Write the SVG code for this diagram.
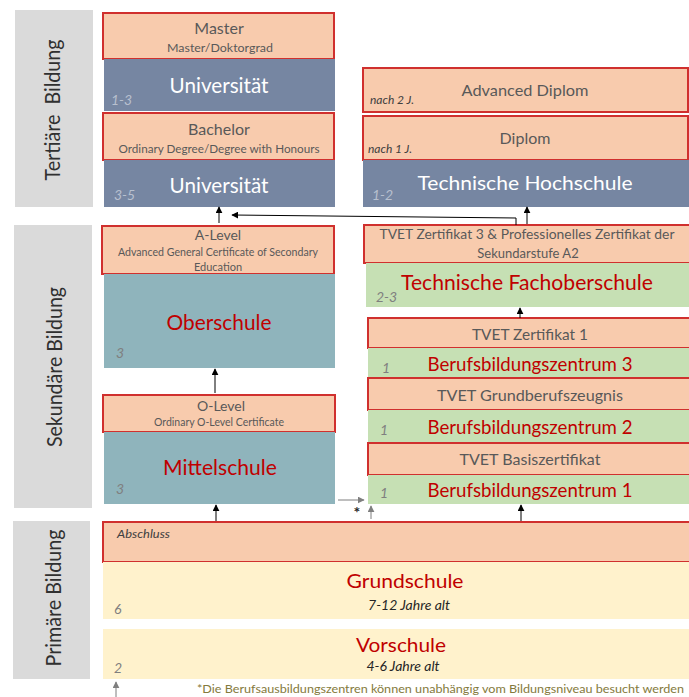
<svg xmlns="http://www.w3.org/2000/svg" width="689" height="697" viewBox="0 0 689 697">
<style>
text{font-family:Lato,"Liberation Sans",Arial,sans-serif}
.side{fill:#DADADA}
.cert{fill:#F8CBAD;stroke:#D0302E;stroke-width:2}
.uni{fill:#7686A2}
.teal{fill:#8FB4BC}
.green{fill:#C6E0B4}
.yellow{fill:#FFF2CC}
.sl{font-size:21px;fill:#303030;text-anchor:middle}
.ct{fill:#595959;text-anchor:middle}
.wt{fill:#FFFFFF;text-anchor:middle}
.rt{fill:#C00000;text-anchor:middle}
.yr{font-style:italic;font-size:14px;fill:#7F7F7F}
.yl{font-style:italic;font-size:14px;fill:#B8C0CF}
.nj{font-style:italic;font-size:12px;fill:#404040}
.age{font-style:italic;font-size:14px;fill:#262626;text-anchor:middle}
.ln{stroke:#000;stroke-width:1;fill:none;marker-end:url(#ah)}
.lg{stroke:#7F7F7F;stroke-width:1;fill:none;marker-end:url(#ag)}
</style>
<defs>
<marker id="ah" viewBox="0 0 10 10" refX="9" refY="5" markerWidth="7" markerHeight="7" markerUnits="userSpaceOnUse" orient="auto"><path d="M0,0 L10,5 L0,10 z" fill="#000"/></marker>
<marker id="ag" viewBox="0 0 10 10" refX="9" refY="5" markerWidth="7" markerHeight="7" markerUnits="userSpaceOnUse" orient="auto"><path d="M0,0 L10,5 L0,10 z" fill="#7F7F7F"/></marker>
</defs>
<rect width="689" height="697" fill="#FFFFFF"/>

<g id="side-tertiaer"><rect class="side" x="15" y="10" width="78" height="197"/><text class="sl" transform="translate(60,110) rotate(-90)" xml:space="preserve" textLength="141" lengthAdjust="spacingAndGlyphs">Tertiäre  Bildung</text></g>
<g id="side-sekundaer"><rect class="side" x="14" y="225" width="78" height="283"/><text class="sl" transform="translate(62,367) rotate(-90)" textLength="160" lengthAdjust="spacingAndGlyphs">Sekundäre Bildung</text></g>
<g id="side-primaer"><rect class="side" x="13" y="521" width="77" height="158"/><text class="sl" transform="translate(61,598) rotate(-90)" textLength="137" lengthAdjust="spacingAndGlyphs">Primäre Bildung</text></g>

<g id="master"><rect class="cert" x="103" y="13" width="231" height="46"/><text class="ct" x="219" y="34" font-size="16">Master</text><text class="ct" x="220" y="52" font-size="11.5" textLength="106" lengthAdjust="spacingAndGlyphs">Master/Doktorgrad</text></g>
<g id="uni1"><rect class="uni" x="104" y="59" width="231" height="52"/><text class="wt" x="219" y="93" font-size="21" textLength="99" lengthAdjust="spacingAndGlyphs">Universität</text><text class="yl" x="111" y="105">1-3</text></g>
<g id="bachelor"><rect class="cert" x="103" y="113" width="231" height="47"/><text class="ct" x="219" y="135" font-size="16">Bachelor</text><text class="ct" x="219" y="153" font-size="11.5" textLength="201" lengthAdjust="spacingAndGlyphs">Ordinary Degree/Degree with Honours</text></g>
<g id="uni2"><rect class="uni" x="104" y="160" width="231" height="47"/><text class="wt" x="219" y="193" font-size="21" textLength="99" lengthAdjust="spacingAndGlyphs">Universität</text><text class="yl" x="114" y="200">3-5</text></g>

<g id="adv-diplom"><rect class="cert" x="363" y="68" width="325" height="44"/><text class="ct" x="525" y="96" font-size="16" textLength="127" lengthAdjust="spacingAndGlyphs">Advanced Diplom</text><text class="nj" x="370" y="104">nach 2 J.</text></g>
<g id="diplom"><rect class="cert" x="363" y="116" width="325" height="44"/><text class="ct" x="525" y="144" font-size="16">Diplom</text><text class="nj" x="368" y="153">nach 1 J.</text></g>
<g id="tech-hochschule"><rect class="uni" x="363" y="160" width="326" height="47"/><text class="wt" x="525" y="190" font-size="20" textLength="215" lengthAdjust="spacingAndGlyphs">Technische Hochschule</text><text class="yl" x="372" y="200">1-2</text></g>

<g id="a-level"><rect class="cert" x="102" y="226" width="232" height="48"/><text class="ct" x="218" y="240" font-size="14">A-Level</text><text class="ct" x="218" y="256" font-size="11" textLength="200" lengthAdjust="spacingAndGlyphs">Advanced General Certificate of Secondary</text><text class="ct" x="218" y="271" font-size="11">Education</text></g>
<g id="oberschule"><rect class="teal" x="104" y="274" width="231" height="94"/><text class="rt" x="219" y="330" font-size="21" textLength="105" lengthAdjust="spacingAndGlyphs">Oberschule</text><text class="yr" x="116" y="358">3</text></g>
<g id="o-level"><rect class="cert" x="103" y="395" width="232" height="37"/><text class="ct" x="221" y="411" font-size="14">O-Level</text><text class="ct" x="219" y="426" font-size="11" textLength="130" lengthAdjust="spacingAndGlyphs">Ordinary O-Level Certificate</text></g>
<g id="mittelschule"><rect class="teal" x="104" y="432" width="231" height="72"/><text class="rt" x="220" y="475" font-size="22" textLength="114" lengthAdjust="spacingAndGlyphs">Mittelschule</text><text class="yr" x="116" y="494">3</text></g>

<g id="tvet3"><rect class="cert" x="364" y="225" width="327" height="38"/><text class="ct" x="527" y="239" font-size="13" textLength="295" lengthAdjust="spacingAndGlyphs">TVET Zertifikat 3 &amp; Professionelles Zertifikat der</text><text class="ct" x="528" y="258" font-size="13">Sekundarstufe A2</text></g>
<g id="tech-fachoberschule"><rect class="green" x="366" y="263" width="323" height="44"/><text class="rt" x="527" y="290" font-size="22" textLength="252" lengthAdjust="spacingAndGlyphs">Technische Fachoberschule</text><text class="yr" x="376" y="302">2-3</text></g>
<g id="tvet1"><rect class="cert" x="368" y="318" width="323" height="30"/><text class="ct" x="530" y="340" font-size="16" textLength="116" lengthAdjust="spacingAndGlyphs">TVET Zertifikat 1</text></g>
<g id="bbz3"><rect class="green" x="368" y="348" width="321" height="30"/><text class="rt" x="530" y="371" font-size="19" textLength="205" lengthAdjust="spacingAndGlyphs">Berufsbildungszentrum 3</text><text class="yr" x="382" y="373">1</text></g>
<g id="tvet-grund"><rect class="cert" x="368" y="378" width="323" height="32"/><text class="ct" x="530" y="401" font-size="16" textLength="186" lengthAdjust="spacingAndGlyphs">TVET Grundberufszeugnis</text></g>
<g id="bbz2"><rect class="green" x="368" y="410" width="321" height="33"/><text class="rt" x="530" y="434" font-size="19" textLength="205" lengthAdjust="spacingAndGlyphs">Berufsbildungszentrum 2</text><text class="yr" x="380" y="435">1</text></g>
<g id="tvet-basis"><rect class="cert" x="368" y="443" width="323" height="32"/><text class="ct" x="530" y="465" font-size="16" textLength="141" lengthAdjust="spacingAndGlyphs">TVET Basiszertifikat</text></g>
<g id="bbz1"><rect class="green" x="368" y="475" width="321" height="29"/><text class="rt" x="530" y="497" font-size="19" textLength="205" lengthAdjust="spacingAndGlyphs">Berufsbildungszentrum 1</text><text class="yr" x="380" y="498">1</text></g>

<g id="abschluss"><rect class="cert" x="103" y="522" width="588" height="40"/><text class="nj" x="117" y="538" textLength="53" lengthAdjust="spacingAndGlyphs">Abschluss</text></g>
<g id="grundschule"><rect class="yellow" x="103" y="562" width="586" height="57"/><text class="rt" x="405" y="588" font-size="20" textLength="117" lengthAdjust="spacingAndGlyphs">Grundschule</text><text class="age" x="409" y="610">7-12 Jahre alt</text><text class="yr" x="114" y="614">6</text></g>
<g id="vorschule"><rect class="yellow" x="103" y="629" width="586" height="50"/><text class="rt" x="401" y="652" font-size="20" textLength="90" lengthAdjust="spacingAndGlyphs">Vorschule</text><text class="age" x="403" y="671">4-6 Jahre alt</text><text class="yr" x="114" y="673">2</text></g>

<g id="connectors">
<line class="ln" x1="219" y1="223" x2="219" y2="207"/>
<polyline class="ln" points="516,225 516,218 232,215"/>
<line class="ln" x1="527" y1="224" x2="527" y2="207"/>
<line class="ln" x1="215" y1="393" x2="215" y2="369"/>
<line class="ln" x1="520" y1="318" x2="520" y2="308"/>
<line class="lg" x1="338" y1="500" x2="364" y2="500"/>
<line class="lg" x1="371" y1="519" x2="371" y2="506"/>
<line class="ln" x1="216" y1="521" x2="216" y2="505"/>
<line class="ln" x1="521" y1="521" x2="521" y2="505"/>
<line class="lg" x1="116" y1="697" x2="116" y2="682"/>
</g>
<text x="357" y="518" font-size="16" font-weight="bold" fill="#262626" text-anchor="middle">*</text>
<text x="197" y="693" font-size="12" fill="#847A3C" textLength="487" lengthAdjust="spacingAndGlyphs">*Die Berufsausbildungszentren können unabhängig vom Bildungsniveau besucht werden</text>
</svg>
